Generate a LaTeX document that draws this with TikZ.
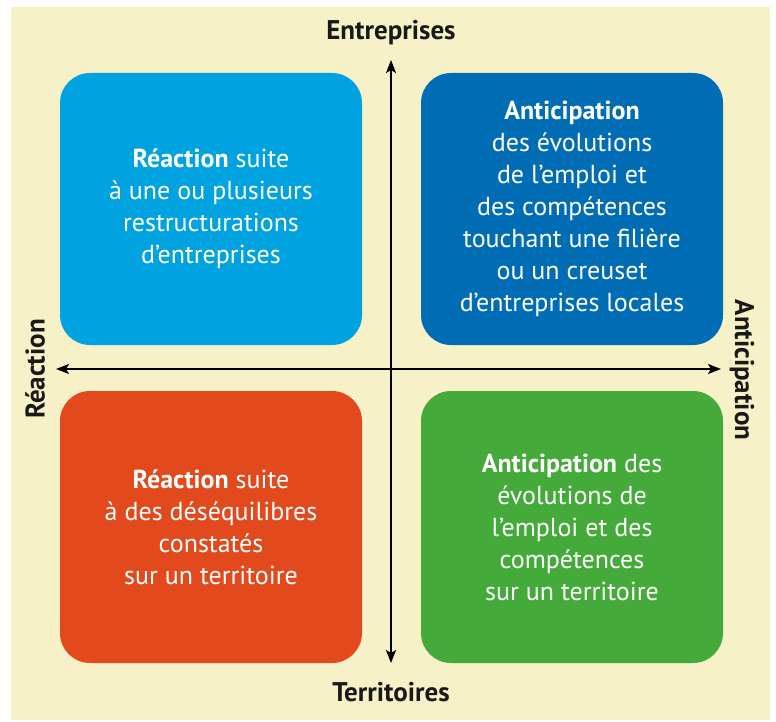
\documentclass[tikz,border=0pt]{standalone}
\usepackage{fontspec}
\setmainfont{PT Sans}
\usepackage{tikz}
\usetikzlibrary{arrows.meta}
\definecolor{fond}{HTML}{F7F1C8}
\definecolor{bleuclair}{HTML}{00A3E0}
\definecolor{bleufonce}{HTML}{006DB5}
\definecolor{orange}{HTML}{E2491C}
\definecolor{vert}{HTML}{44AA3A}

\begin{document}
\begin{tikzpicture}[x=1pt, y=-1pt,
  every node/.style={outer sep=0pt},
  bloc/.style={rounded corners=30pt, minimum width=302pt, minimum height=272pt, text=white, align=center, font=\fontsize{26}{32}\selectfont},
  axe/.style={font=\fontsize{27}{30}\selectfont\bfseries, text=black!90}]
\useasboundingbox (0,0) rectangle (776,722);
\fill[fond] (11,7) rectangle (770,720);

\node[bloc, fill=bleuclair] (reactent) at (211,209) {\textbf{Réaction} suite\\à une ou plusieurs\\restructurations\\d’entreprises};
\node[bloc, fill=bleufonce] (anticent) at (572,209) {\textbf{Anticipation}\\des évolutions\\de l’emploi et\\des compétences\\touchant une filière\\ou un creuset\\d’entreprises locales};
\node[bloc, fill=orange] (reactter) at (211,527) {\textbf{Réaction} suite\\à des déséquilibres\\constatés\\sur un territoire};
\node[bloc, fill=vert] (anticter) at (572,527) {\textbf{Anticipation} des\\évolutions de\\l’emploi et des\\compétences\\sur un territoire};

\coordinate (haut) at (391,60);
\coordinate (bas) at (391,663);
\coordinate (gauche) at (56,369);
\coordinate (droite) at (721,369);
\draw[line width=2pt, {Stealth[length=13pt,width=10pt,inset=3pt]}-{Stealth[length=13pt,width=10pt,inset=3pt]}] (bas) -- (haut);
\draw[line width=2pt, {Stealth[length=13pt,width=10pt,inset=3pt]}-{Stealth[length=13pt,width=10pt,inset=3pt]}] (gauche) -- (droite);

\node[axe] (entreprises) at (391,33) {Entreprises};
\node[axe] (territoires) at (391,692) {Territoires};
\node[axe, rotate=90] (reaction) at (35,369) {Réaction};
\node[axe, rotate=-90] (anticipation) at (742,370) {Anticipation};
\end{tikzpicture}
\end{document}
